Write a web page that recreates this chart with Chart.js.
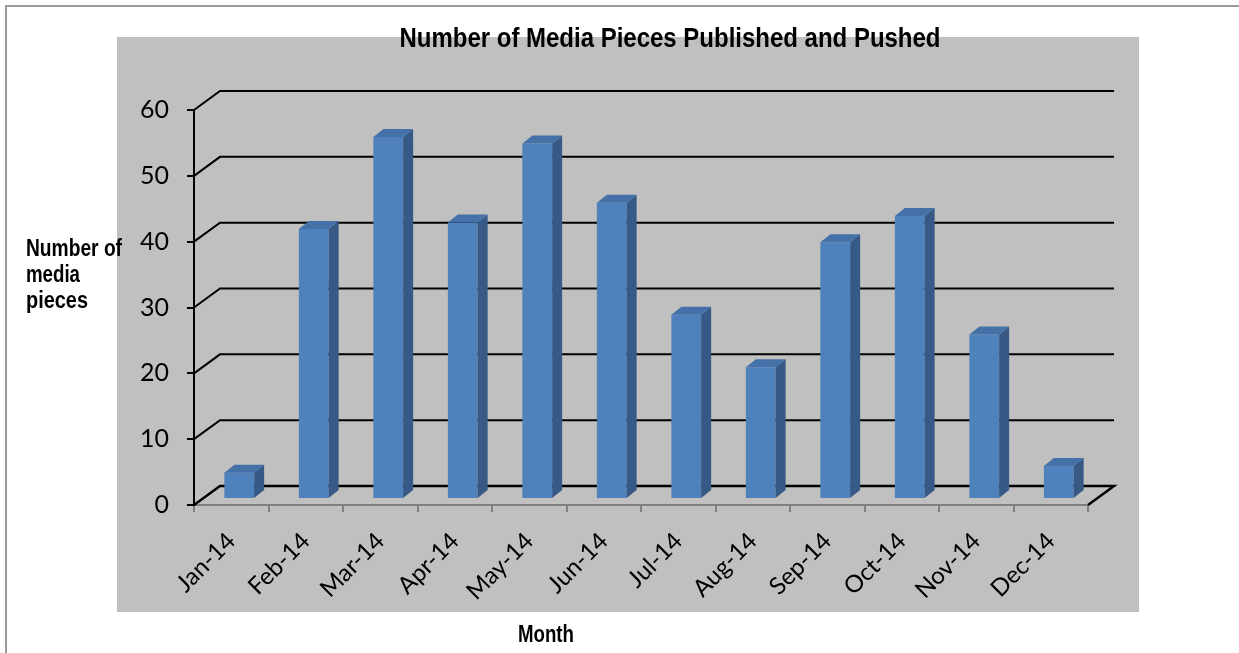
<!DOCTYPE html>
<html><head><meta charset="utf-8">
<script src="https://cdn.jsdelivr.net/npm/chart.js@4.4.0/dist/chart.umd.min.js"></script>
<style>
html,body{margin:0;padding:0;background:#fff;}
#wrap{position:relative;width:1239px;height:653px;overflow:hidden;}
#frame{position:absolute;left:5px;top:5px;width:1300px;height:700px;border-left:2px solid #9a9a9a;border-top:2px solid #9a9a9a;}
canvas{position:absolute;left:0;top:0;}
</style></head><body>
<div id="wrap"><div id="frame"></div><canvas id="c" width="1239" height="653"></canvas></div>
<script>
const months = ['Jan-14','Feb-14','Mar-14','Apr-14','May-14','Jun-14','Jul-14','Aug-14','Sep-14','Oct-14','Nov-14','Dec-14'];
const mediaPieces = [4,41,55,42,54,45,28,20,39,43,25,5];
const yMin = 0, yMax = 60, yStep = 10;
const chartTitle = 'Number of Media Pieces Published and Pushed';
const yTitleLines = ['Number of','media','pieces'];
const xTitle = 'Month';

const TITLE_FONT = '"Liberation Sans", Arial, sans-serif';
const TICK_FONT = 'Lato, "Open Sans", sans-serif';
const WALL_DX = 26, WALL_DY = 19;     // back wall offset
const BAR_DX = 8, BAR_DY = 6;         // bar front face offset from front plane
const SIDE_DX = 10, SIDE_DY = 8;      // bar depth
const FRONT = '#4f81bd', TOP = '#4471a8', SIDE = '#365a85';

function narrowText(ctx, text, x, y, size, targetW, align) {
  ctx.font = 'bold ' + size + 'px ' + TITLE_FONT;
  const w = ctx.measureText(text).width;
  const k = targetW / w;
  ctx.save();
  ctx.translate(x, y);
  ctx.scale(k, 1);
  ctx.textAlign = align;
  ctx.fillText(text, 0, 0);
  ctx.restore();
}

const threeD = {
  id: 'threeD',
  beforeDraw(chart) {
    const {ctx, chartArea: a} = chart;
    ctx.save();
    ctx.fillStyle = '#c0c0c0';
    ctx.fillRect(a.left - 77, a.top - 73, 1022, 575);
    ctx.restore();
  },
  beforeDatasetsDraw(chart) {
    const {ctx, chartArea: a, scales: {y}} = chart;
    ctx.save();
    ctx.strokeStyle = '#000';
    y.ticks.forEach(t => {
      const py = y.getPixelForValue(t.value);
      ctx.lineWidth = t.value === 0 ? 2.5 : 2;
      ctx.beginPath();
      ctx.moveTo(a.left, py);
      ctx.lineTo(a.left + WALL_DX, py - WALL_DY);
      ctx.lineTo(a.right + WALL_DX, py - WALL_DY);
      if (t.value === 0) ctx.lineTo(a.right, py);
      ctx.stroke();
    });
    ctx.restore();
    ctx.save();
    ctx.translate(BAR_DX, -BAR_DY);
  },
  afterDatasetsDraw(chart) {
    const {ctx} = chart;
    chart.getDatasetMeta(0).data.forEach(el => {
      const p = el.getProps(['x','y','base','width'], true);
      const l = p.x - p.width / 2, r = p.x + p.width / 2;
      ctx.fillStyle = SIDE;
      ctx.beginPath();
      ctx.moveTo(r, p.y); ctx.lineTo(r + SIDE_DX, p.y - SIDE_DY);
      ctx.lineTo(r + SIDE_DX, p.base - SIDE_DY); ctx.lineTo(r, p.base);
      ctx.closePath(); ctx.fill();
      ctx.fillStyle = TOP;
      ctx.beginPath();
      ctx.moveTo(l, p.y); ctx.lineTo(l + SIDE_DX, p.y - SIDE_DY);
      ctx.lineTo(r + SIDE_DX, p.y - SIDE_DY); ctx.lineTo(r, p.y);
      ctx.closePath(); ctx.fill();
    });
    ctx.restore();
  },
  afterDraw(chart) {
    const {ctx} = chart;
    ctx.save();
    ctx.fillStyle = '#000';
    ctx.textBaseline = 'alphabetic';
    narrowText(ctx, chartTitle, 670, 47, 28, 541, 'center');
    narrowText(ctx, xTitle, 546, 642, 23, 56, 'center');
    const yW = [96, 54, 62];
    yTitleLines.forEach((s, i) => narrowText(ctx, s, 26, 256 + i * 26, 23, yW[i], 'left'));
    ctx.restore();
  }
};

new Chart(document.getElementById('c'), {
  type: 'bar',
  data: {
    labels: months,
    datasets: [{ data: mediaPieces, backgroundColor: FRONT, borderWidth: 0,
                 categoryPercentage: 0.4, barPercentage: 1 }]
  },
  options: {
    responsive: false, animation: false, devicePixelRatio: 1,
    layout: { padding: { left: 117, top: 110, right: 151, bottom: 41 } },
    plugins: { legend: { display: false }, tooltip: { enabled: false }, title: { display: false } },
    scales: {
      x: {
        afterFit(s) { s.height = 107; },
        grid: { offset: true, drawOnChartArea: false, drawTicks: true, tickLength: 7, color: '#808080', lineWidth: 2 },
        border: { display: true, color: '#808080', width: 2 },
        ticks: { autoSkip: false, minRotation: 45, maxRotation: 45, padding: 15, color: '#000',
                 font: { family: TICK_FONT, size: 24 } }
      },
      y: {
        min: yMin, max: yMax,
        afterFit(s) { s.width = 77; },
        grid: { drawOnChartArea: false, drawTicks: true, tickLength: 7, color: '#000', lineWidth: 2 },
        border: { display: true, color: '#000', width: 2 },
        ticks: { stepSize: yStep, padding: 18, color: '#000', font: { family: TICK_FONT, size: 25 } }
      }
    }
  },
  plugins: [threeD]
});
</script>
</body></html>
